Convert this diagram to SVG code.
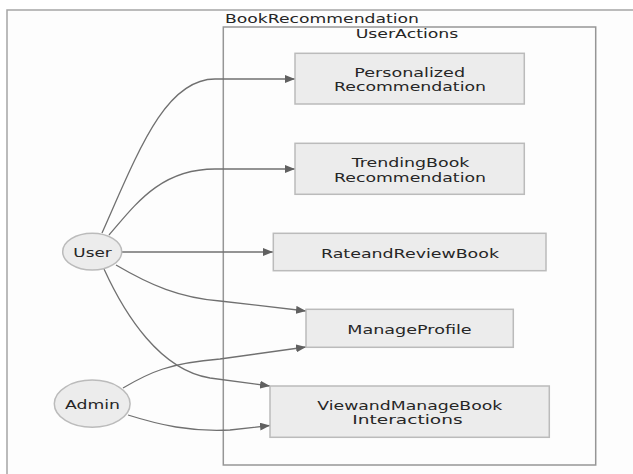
<svg xmlns="http://www.w3.org/2000/svg" width="633" height="474" viewBox="0 0 633 474">
<defs>
<style>
.frame{fill:#fdfdfd;stroke:#a5a5a5;stroke-width:1.5}
.cluster{fill:#fdfdfd;stroke:#969696;stroke-width:1.5}
.node{fill:#ececec;stroke:#bbbbbb;stroke-width:1.5}
.edge{fill:none;stroke:#707070;stroke-width:1.3}
text{font-family:"DejaVu Sans","Noto Sans",sans-serif;font-size:13px;fill:#262626}
.mid{text-anchor:middle}
</style>
<marker id="arr" markerWidth="10" markerHeight="8" refX="10" refY="4" orient="auto" markerUnits="userSpaceOnUse">
<path d="M0,0 L10,4 L0,8 z" fill="#606060"/>
</marker>
</defs>
<rect x="0" y="0" width="633" height="474" fill="#ffffff"/>
<g id="BookRecommendation">
<rect class="frame" x="7" y="10" width="700" height="520"/>
<text x="225" y="22.5" textLength="194" lengthAdjust="spacingAndGlyphs">BookRecommendation</text>
</g>
<g id="UserActions">
<rect class="cluster" x="223.3" y="27" width="372.4" height="438"/>
<text class="mid" x="407" y="38" textLength="102.6" lengthAdjust="spacingAndGlyphs">UserActions</text>
</g>
<g id="edges">
<path class="edge" d="M102,233 C138,152 165,79 215,79 L295,79" marker-end="url(#arr)"/>
<path class="edge" d="M109,235 C135,205 160,169 215,169 L295,169" marker-end="url(#arr)"/>
<path class="edge" d="M121.7,252 L273,252" marker-end="url(#arr)"/>
<path class="edge" d="M116,265 C150,285 180,298 220,301 L306,311" marker-end="url(#arr)"/>
<path class="edge" d="M104,269 C125,315 160,370 210,378 L270,386" marker-end="url(#arr)"/>
<path class="edge" d="M123,388 C150,372 170,363 220,359 L306,347" marker-end="url(#arr)"/>
<path class="edge" d="M128,415 C160,425 190,432 230,430 L270,425.5" marker-end="url(#arr)"/>
</g>
<g id="PersonalizedRecommendation">
<rect class="node" x="295" y="53.3" width="229.3" height="50.7"/>
<text class="mid" x="409.7" y="77" textLength="110.7" lengthAdjust="spacingAndGlyphs">Personalized</text>
<text class="mid" x="410" y="91.3" textLength="152" lengthAdjust="spacingAndGlyphs">Recommendation</text>
</g>
<g id="TrendingBookRecommendation">
<rect class="node" x="295" y="143.3" width="229.3" height="51"/>
<text class="mid" x="410.5" y="167.3" textLength="117.7" lengthAdjust="spacingAndGlyphs">TrendingBook</text>
<text class="mid" x="410" y="181.6" textLength="152" lengthAdjust="spacingAndGlyphs">Recommendation</text>
</g>
<g id="RateandReviewBook">
<rect class="node" x="273.3" y="233.3" width="272.7" height="37.4"/>
<text class="mid" x="410" y="257.7" textLength="178" lengthAdjust="spacingAndGlyphs">RateandReviewBook</text>
</g>
<g id="ManageProfile">
<rect class="node" x="306" y="309.3" width="207.3" height="38"/>
<text class="mid" x="409.5" y="334.3" textLength="124.3" lengthAdjust="spacingAndGlyphs">ManageProfile</text>
</g>
<g id="ViewandManageBookInteractions">
<rect class="node" x="270" y="386" width="279.3" height="51.3"/>
<text class="mid" x="409.8" y="409.7" textLength="185" lengthAdjust="spacingAndGlyphs">ViewandManageBook</text>
<text class="mid" x="407.5" y="424" textLength="110.3" lengthAdjust="spacingAndGlyphs">Interactions</text>
</g>
<g id="User">
<ellipse class="node" cx="92.2" cy="251.7" rx="29.5" ry="18.4"/>
<text class="mid" x="92.5" y="257.3" textLength="38.3" lengthAdjust="spacingAndGlyphs">User</text>
</g>
<g id="Admin">
<ellipse class="node" cx="92.2" cy="403.7" rx="37.9" ry="23.6"/>
<text class="mid" x="92.5" y="409.3" textLength="55" lengthAdjust="spacingAndGlyphs">Admin</text>
</g>
</svg>
